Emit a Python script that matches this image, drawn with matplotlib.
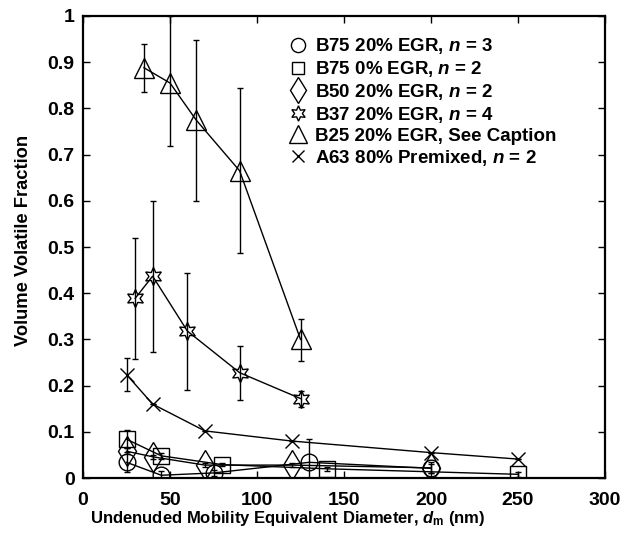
import numpy as np
import matplotlib
matplotlib.use("Agg")
import matplotlib.pyplot as plt

plt.rcParams["font.family"] = ["Liberation Sans", "DejaVu Sans"]
plt.rcParams["font.weight"] = "bold"
plt.rcParams["mathtext.fontset"] = "custom"
plt.rcParams["mathtext.rm"] = "Liberation Sans:bold"
plt.rcParams["mathtext.it"] = "Liberation Sans:italic:bold"
plt.rcParams["mathtext.bf"] = "Liberation Sans:bold"

# B75 20% EGR
b75_20_x = [25, 45, 75, 130, 200]
b75_20_y = [0.034, 0.006, 0.011, 0.034, 0.021]
b75_20_err = [0.022, 0.010, 0.006, 0.050, 0.010]

# B75 0% EGR
b75_0_x = [25, 45, 80, 140, 250]
b75_0_y = [0.084, 0.048, 0.029, 0.020, 0.008]
b75_0_err = [0.020, 0.006, 0.004, 0.004, 0.006]

# B50 20% EGR
b50_x = [25, 40, 70, 120, 200]
b50_y = [0.058, 0.046, 0.028, 0.028, 0.022]
b50_err = [0.006, 0.004, 0.004, 0.004, 0.012]

# B37 20% EGR
b37_x = [30, 40, 60, 90, 125]
b37_y = [0.389, 0.437, 0.318, 0.228, 0.172]
b37_lo = [0.257, 0.273, 0.190, 0.169, 0.153]
b37_hi = [0.519, 0.600, 0.443, 0.286, 0.189]

# B25 20% EGR
b25_x = [35, 50, 65, 90, 125]
b25_y = [0.888, 0.855, 0.775, 0.665, 0.300]
b25_lo = [0.836, 0.718, 0.600, 0.487, 0.253]
b25_hi = [0.940, 1.000, 0.948, 0.845, 0.344]

# A63 80% Premixed
a63_x = [25, 40, 70, 120, 200, 250]
a63_y = [0.224, 0.160, 0.102, 0.080, 0.055, 0.041]
a63_err = [0.035, 0.0, 0.0, 0.0, 0.0, 0.0]

labels = [
    "B75 20% EGR, $n$ = 3",
    "B75 0% EGR, $n$ = 2",
    "B50 20% EGR, $n$ = 2",
    "B37 20% EGR, $n$ = 4",
    "B25 20% EGR, See Caption",
    "A63 80% Premixed, $n$ = 2",
]

fig = plt.figure(figsize=(6.26, 5.46), dpi=100)
ax = fig.add_axes([0.1326, 0.1245, 0.8339, 0.8462])

def series(x, y, err, marker, ms, label):
    x = np.array(x)
    y = np.array(y)
    ax.errorbar(x, y, yerr=err, fmt="none", ecolor="k", elinewidth=1.0,
                capsize=2.5, capthick=1.0, zorder=2)
    ax.plot(x, y, color="k", lw=1.0, marker=marker, ms=ms, mfc="none",
            mec="k", mew=1.0, label=label, zorder=3)

def asym(y, lo, hi):
    y = np.array(y)
    return [y - np.array(lo), np.array(hi) - y]

series(b75_20_x, b75_20_y, b75_20_err, "o", 12, labels[0])
series(b75_0_x, b75_0_y, b75_0_err, "s", 11, labels[1])
series(b50_x, b50_y, b50_err, "d", 15, labels[2])
series(b37_x, b37_y, asym(b37_y, b37_lo, b37_hi), (6, 1, 0), 13, labels[3])
series(b25_x, b25_y, asym(b25_y, b25_lo, b25_hi), "^", 15, labels[4])
series(a63_x, a63_y, a63_err, "x", 10, labels[5])

ax.set_xlim(0, 300)
ax.set_ylim(0, 1)
ax.set_xticks(np.arange(0, 301, 50))
ax.set_yticks(np.arange(0, 1.01, 0.1))
ax.set_yticklabels(["0", "0.1", "0.2", "0.3", "0.4", "0.5", "0.6",
                    "0.7", "0.8", "0.9", "1"])
ax.tick_params(direction="in", top=True, right=True, length=5, width=1,
               labelsize=14)
ax.tick_params(axis="x", pad=10)
ax.tick_params(axis="y", pad=6)
for s in ax.spines.values():
    s.set_linewidth(1.6)

ax.set_xlabel("Undenuded Mobility Equivalent Diameter, $d_\\mathrm{m}$ (nm)",
              fontsize=12, fontweight="bold")
ax.xaxis.set_label_coords(0.393, -0.066)
ax.set_ylabel("Volume Volatile Fraction", fontsize=13.2, fontweight="bold")
ax.yaxis.set_label_coords(-0.097, 0.515)

leg = ax.legend(loc="upper left", bbox_to_anchor=(0.375, 0.972), frameon=False,
                fontsize=13.5, handlelength=1.2, handletextpad=0.35,
                labelspacing=0.15, borderaxespad=0, markerscale=0.85)
for h in leg.legend_handles:
    h.set_linestyle("none")

fig.savefig("out.png", dpi=100)
